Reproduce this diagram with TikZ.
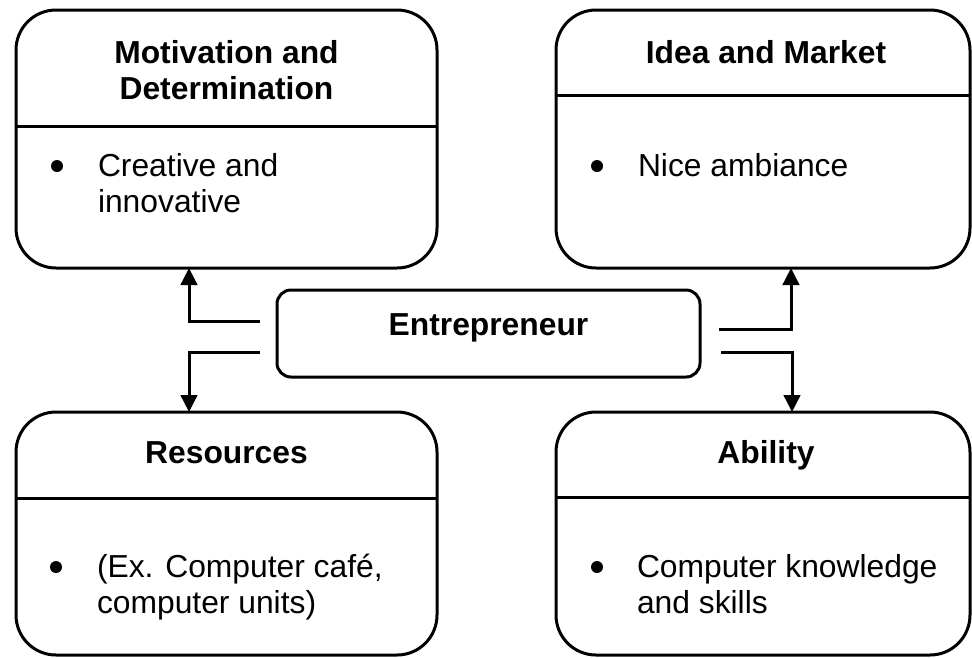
\documentclass[tikz,border=0pt]{standalone}
\usepackage{fontspec}
\setmainfont{Liberation Sans}
\usetikzlibrary{arrows.meta,calc}

\begin{document}
\begin{tikzpicture}[x=1pt,y=-1pt,
  panel/.style={draw, line width=3pt, rounded corners=40pt, outer sep=0pt, inner sep=0pt},
  hub/.style={draw, line width=3pt, rounded corners=14pt, outer sep=0pt, inner sep=0pt},
  rule/.style={line width=3pt},
  link/.style={line width=3pt, -{Triangle[length=17pt,width=16.5pt]}},
  dot/.style={circle, fill, inner sep=0pt, minimum size=12pt},
  txt/.style={inner sep=0pt, outer sep=0pt, anchor=base, font=\fontsize{31.8pt}{36pt}\selectfont},
  head/.style={txt, font=\fontsize{31.8pt}{36pt}\selectfont\bfseries}]

  \useasboundingbox (0,0) rectangle (972,657);

  % the four outer panels
  \node[panel, minimum width=421pt, minimum height=258pt] (mot)  at (226.5,139)   {};
  \node[panel, minimum width=414pt, minimum height=258pt] (idea) at (763,139)     {};
  \node[panel, minimum width=421pt, minimum height=243pt] (res)  at (226.5,533.5) {};
  \node[panel, minimum width=414pt, minimum height=243pt] (abil) at (763,533.5)   {};

  % the central box
  \node[hub, minimum width=423pt, minimum height=87pt] (ent) at (488.5,333.5) {};
  \node[head] (entT) at (488.5,335) {Entrepreneur};

  % header dividers
  \draw[rule] (mot.west |- 0,126)  -- (mot.east |- 0,126);
  \draw[rule] (idea.west |- 0,95)  -- (idea.east |- 0,95);
  \draw[rule] (res.west |- 0,498)  -- (res.east |- 0,498);
  \draw[rule] (abil.west |- 0,497) -- (abil.east |- 0,497);

  % headings
  \node[head] (motT)  at (226.5,63) {\parbox[t]{390pt}{\centering Motivation and\\Determination}};
  \node[head] (ideaT) at (766,63)   {Idea and Market};
  \node[head] (resT)  at (226.5,463) {Resources};
  \node[head] (abilT) at (766,463)  {Ability};

  % bullet items
  \node[dot] (motB) at (57,166) {};
  \node[txt, anchor=base west] (motI) at (98,176) {\parbox[t]{330pt}{Creative and\\innovative}};
  \node[dot] (ideaB) at (597,166) {};
  \node[txt, anchor=base west] (ideaI) at (638,176) {Nice ambiance};
  \node[dot] (resB) at (56,567) {};
  \node[txt, anchor=base west] (resI) at (97,577) {\parbox[t]{340pt}{(Ex. Computer café,\\computer units)}};
  \node[dot] (abilB) at (597,567) {};
  \node[txt, anchor=base west] (abilI) at (637,577) {\parbox[t]{340pt}{Computer knowledge\\and skills}};

  % connectors from the central box
  \draw[link] ($(ent.west)+(-17,-12.5)$) -| ($(mot.south west)+(173,0)$);
  \draw[link] ($(ent.west)+(-17,18.5)$)  -| ($(res.north west)+(173,0)$);
  \draw[link] ($(ent.east)+(19,-4.5)$)   -| ($(idea.south west)+(235,0)$);
  \draw[link] ($(ent.east)+(21,18.5)$)   -| ($(abil.north west)+(236,0)$);
\end{tikzpicture}
\end{document}
